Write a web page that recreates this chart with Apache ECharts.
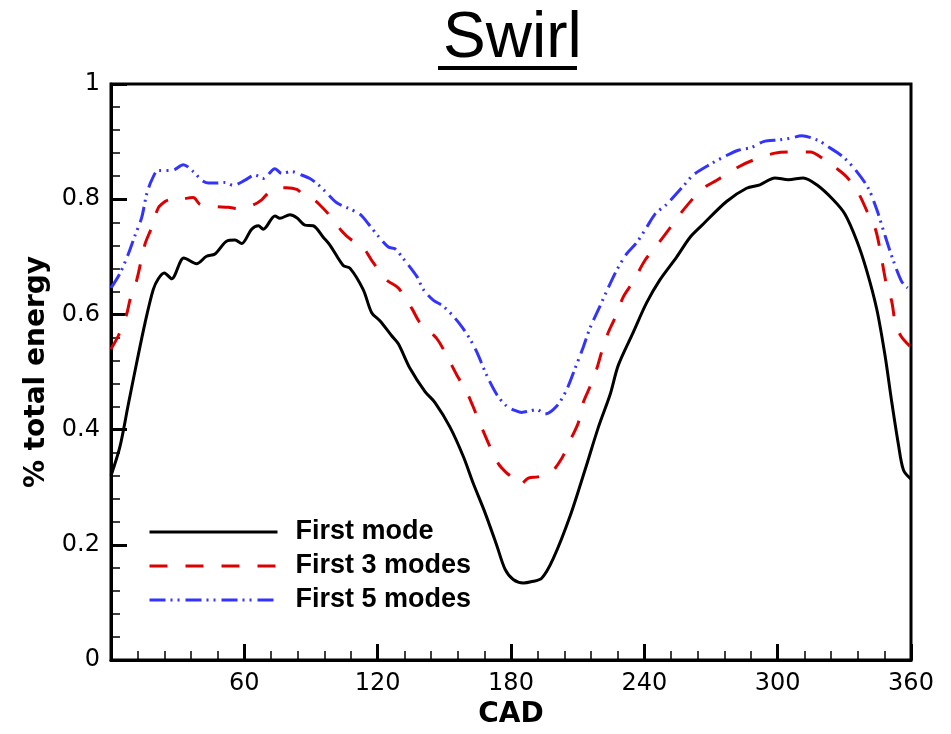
<!DOCTYPE html>
<html>
<head>
<meta charset="utf-8">
<title>Swirl</title>
<script src="https://cdn.jsdelivr.net/npm/echarts@6/dist/echarts.min.js"></script>
<style>
  html, body { margin: 0; padding: 0; background: #fff; }
  #main { width: 951px; height: 734px; }
</style>
</head>
<body>
<div id="main"></div>
<script>
// curves, CAD (deg) -> fraction of total energy
const firstModeCad = [0, 4, 7.8, 11.6, 15.3, 19, 21.3, 24, 27.3, 32.8, 38.5, 43, 46.8, 52, 55.8, 58.8, 63.3, 66.3, 68.5, 73.8, 76, 80.5, 83.6, 87.3, 91, 95.5, 98.6, 104.5, 107.6, 113.5, 117.3, 121, 126.3, 129.3, 134.6, 141.3, 145.8, 152.6, 158.6, 163, 168.3, 173.6, 177.3, 181, 185.6, 189, 193.8, 199, 206.6, 213.3, 219.3, 224.6, 228.3, 235, 241, 247, 254.6, 260.6, 266, 277, 286, 292, 298.8, 304.8, 311.5, 317.6, 325, 330.3, 335.6, 340, 344.6, 348.3, 351.3, 354.3, 356.6, 360]
const firstMode = [0.32, 0.37, 0.444, 0.517, 0.585, 0.643, 0.662, 0.672, 0.662, 0.698, 0.688, 0.701, 0.705, 0.727, 0.729, 0.723, 0.748, 0.754, 0.748, 0.771, 0.767, 0.773, 0.768, 0.755, 0.754, 0.734, 0.72, 0.685, 0.68, 0.643, 0.603, 0.589, 0.563, 0.549, 0.506, 0.466, 0.447, 0.404, 0.353, 0.307, 0.256, 0.199, 0.158, 0.14, 0.134, 0.136, 0.142, 0.176, 0.25, 0.33, 0.404, 0.461, 0.512, 0.569, 0.62, 0.66, 0.7, 0.734, 0.755, 0.796, 0.819, 0.825, 0.837, 0.834, 0.837, 0.825, 0.799, 0.774, 0.728, 0.677, 0.609, 0.529, 0.449, 0.375, 0.33, 0.314]

const first3Cad = [0, 3.3, 7, 8.6, 11.6, 15.3, 18.3, 21.3, 24.3, 26.5, 28, 32, 37, 40, 43.8, 48, 52.8, 56.6, 59.5, 64, 67.8, 70.8, 74.6, 79, 83.6, 86.5, 90.3, 94, 98.6, 103.8, 108, 112.8, 117.3, 124, 129.3, 135.3, 139, 146.6, 151, 155.6, 160, 163.8, 166.8, 170.6, 174.3, 178, 181, 184, 187.8, 192, 197.6, 202.8, 206.6, 210.3, 212.5, 215.6, 218.6, 220.8, 223.8, 226.8, 230.6, 235, 240.3, 245.6, 252.3, 256, 265.8, 272.6, 282.3, 289, 298.8, 305.6, 314.6, 321.3, 326, 331, 336.3, 340.8, 344, 346, 349, 351.3, 352.8, 355.4, 359.5]
const first3 = [0.54, 0.563, 0.6, 0.626, 0.66, 0.722, 0.751, 0.785, 0.796, 0.799, 0.796, 0.8, 0.803, 0.791, 0.788, 0.787, 0.786, 0.784, 0.785, 0.79, 0.799, 0.811, 0.82, 0.82, 0.817, 0.808, 0.802, 0.79, 0.771, 0.745, 0.73, 0.72, 0.694, 0.66, 0.646, 0.611, 0.586, 0.558, 0.529, 0.495, 0.466, 0.432, 0.404, 0.37, 0.341, 0.325, 0.316, 0.304, 0.316, 0.318, 0.324, 0.35, 0.381, 0.412, 0.447, 0.475, 0.506, 0.535, 0.569, 0.594, 0.631, 0.657, 0.694, 0.72, 0.754, 0.774, 0.817, 0.833, 0.856, 0.868, 0.88, 0.882, 0.882, 0.868, 0.855, 0.839, 0.811, 0.774, 0.748, 0.714, 0.651, 0.623, 0.589, 0.563, 0.545]

const first5Cad = [0, 4, 7.8, 10.8, 13.8, 16, 18.3, 21.3, 26.5, 28.8, 32.5, 37, 40.8, 44, 47.5, 51.3, 55, 60.3, 64.8, 68.5, 73.8, 76.8, 81.3, 85.8, 89.5, 93, 96.3, 101.6, 107, 112, 116.5, 120, 124.8, 127.8, 131.5, 137.6, 140.6, 145, 149.6, 154, 158, 161.6, 164.6, 169, 173.6, 178, 182.6, 184.8, 188, 191.6, 195.3, 200.6, 205, 208.8, 212.5, 215.6, 220, 223, 227.6, 232, 236.6, 241, 245, 250, 257.6, 262, 270.3, 276, 282.3, 288.3, 293.6, 301, 306, 310.8, 318.3, 322, 329.6, 335.6, 340.8, 344.6, 348.3, 352, 355.8, 358.5]
const first5 = [0.646, 0.671, 0.705, 0.737, 0.768, 0.808, 0.833, 0.85, 0.85, 0.852, 0.86, 0.848, 0.833, 0.828, 0.828, 0.829, 0.824, 0.833, 0.842, 0.836, 0.853, 0.845, 0.848, 0.842, 0.836, 0.826, 0.814, 0.794, 0.784, 0.774, 0.754, 0.737, 0.717, 0.714, 0.697, 0.666, 0.643, 0.625, 0.614, 0.597, 0.578, 0.557, 0.535, 0.495, 0.461, 0.441, 0.432, 0.43, 0.432, 0.435, 0.427, 0.441, 0.469, 0.506, 0.543, 0.577, 0.614, 0.64, 0.677, 0.705, 0.725, 0.751, 0.775, 0.791, 0.823, 0.842, 0.862, 0.874, 0.885, 0.89, 0.9, 0.903, 0.906, 0.91, 0.902, 0.893, 0.873, 0.848, 0.819, 0.782, 0.737, 0.694, 0.657, 0.646]

const seriesNames = ['First mode', 'First 3 modes', 'First 5 modes']

function pairs(xs, ys) {
  return xs.map((x, i) => [x, ys[i]])
}

const chart = echarts.init(document.getElementById('main'), null, { renderer: 'canvas' })

const tickFont = { fontFamily: 'DejaVu Sans', fontSize: 24, color: '#000' }

let option = {
  animation: false,
  backgroundColor: '#fff',
  title: {
    text: 'Swirl',
    left: 438,
    top: 2,
    textStyle: { fontFamily: 'Liberation Sans', fontSize: 64, fontWeight: 'normal', color: '#000' }
  },
  graphic: [{
    // underline under the title
    type: 'rect',
    left: 438,
    top: 66,
    shape: { width: 139, height: 4 },
    style: { fill: '#000' }
  }],
  legend: {
    orient: 'vertical',
    left: 143,
    top: 512,
    itemWidth: 128,
    itemHeight: 14,
    itemGap: 4,
    data: seriesNames,
    itemStyle: { opacity: 0 },
    lineStyle: { width: 3 },
    textStyle: {
      fontFamily: 'Liberation Sans',
      fontWeight: 'bold',
      fontSize: 27,
      lineHeight: 30,
      color: '#000',
      padding: [0, 0, 0, 13]
    }
  },
  grid: {
    left: 111,
    right: 40,
    top: 84,
    bottom: 64,
    show: true,
    borderColor: '#000',
    borderWidth: 3
  },
  xAxis: {
    type: 'value',
    min: 0,
    max: 360,
    interval: 60,
    name: 'CAD',
    nameLocation: 'middle',
    nameGap: 30,
    nameTextStyle: { fontFamily: 'DejaVu Sans', fontWeight: 'bold', fontSize: 28, color: '#000' },
    axisLine: { lineStyle: { color: '#000', width: 3 } },
    axisTick: { inside: true, length: 16, lineStyle: { color: '#000', width: 3 } },
    minorTick: { show: true, splitNumber: 5, length: 9, lineStyle: { color: '#000', width: 1.5 } },
    splitLine: { show: false },
    axisLabel: Object.assign({ margin: 12, formatter: v => (v === 0 ? '' : v) }, tickFont)
  },
  yAxis: {
    type: 'value',
    min: 0,
    max: 1,
    interval: 0.2,
    name: '% total energy',
    nameLocation: 'middle',
    nameGap: 52,
    nameTextStyle: { fontFamily: 'DejaVu Sans', fontWeight: 'bold', fontSize: 28, color: '#000' },
    axisLine: { lineStyle: { color: '#000', width: 3 } },
    axisTick: { inside: true, length: 16, lineStyle: { color: '#000', width: 3 } },
    minorTick: { show: true, splitNumber: 5, length: 9, lineStyle: { color: '#000', width: 1.5 } },
    splitLine: { show: false },
    axisLabel: Object.assign({ margin: 11 }, tickFont)
  },
  series: [
    {
      name: seriesNames[0],
      type: 'line',
      smooth: 0.3,
      symbol: 'none',
      data: pairs(firstModeCad, firstMode),
      lineStyle: { color: '#000', width: 3 },
      itemStyle: { color: '#000' }
    },
    {
      name: seriesNames[1],
      type: 'line',
      smooth: 0.3,
      symbol: 'none',
      data: pairs(first3Cad, first3),
      lineStyle: { color: '#dd0000', width: 3, type: [18, 18] },
      itemStyle: { color: '#dd0000' }
    },
    {
      name: seriesNames[2],
      type: 'line',
      smooth: 0.3,
      symbol: 'none',
      data: pairs(first5Cad, first5),
      lineStyle: { color: '#3333ff', width: 3, type: [16, 5, 2, 5, 2, 6] },
      itemStyle: { color: '#3333ff' }
    }
  ]
};

chart.setOption(option);
</script>
</body>
</html>
